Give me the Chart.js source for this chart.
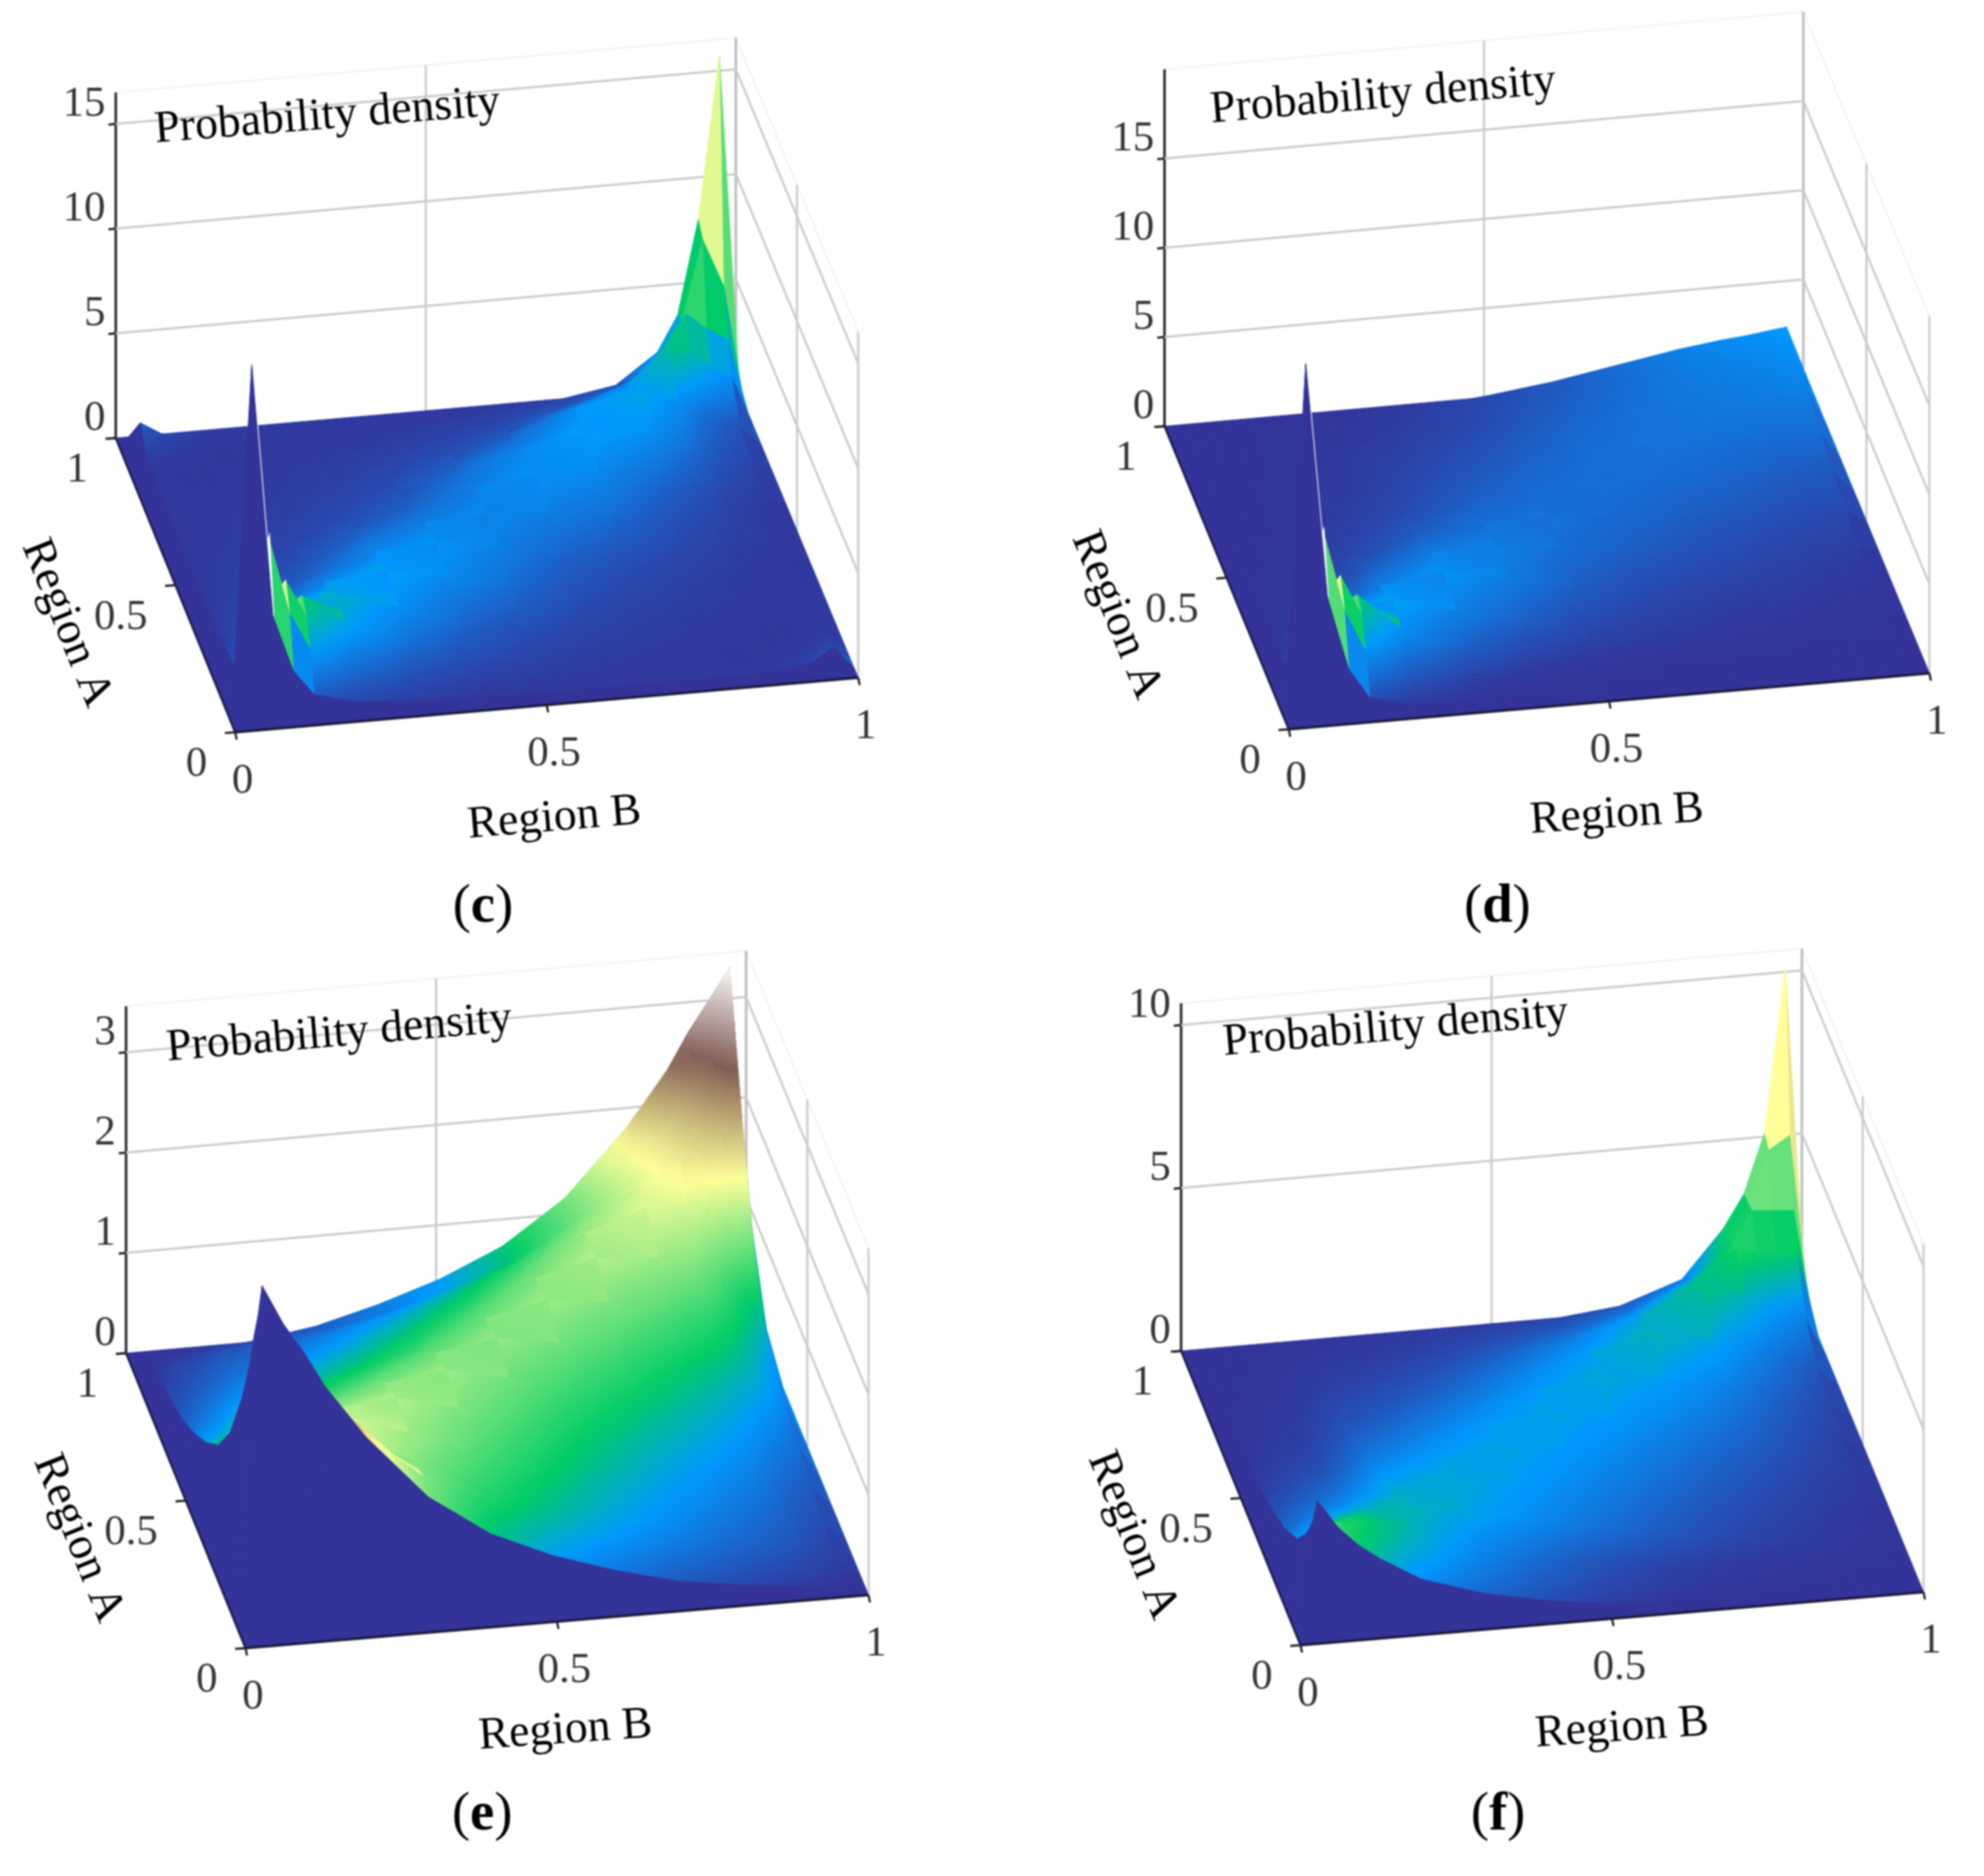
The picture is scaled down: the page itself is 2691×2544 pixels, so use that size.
<!DOCTYPE html>
<html>
<head>
<meta charset="utf-8">
<title>Probability density surfaces</title>
<script src="https://cdn.jsdelivr.net/npm/chart.js@4"></script>
<style>
  html, body { margin: 0; padding: 0; background: #fff; }
  canvas { position: absolute; filter: blur(1px); }
</style>
</head>
<body>
<script>
// grid of Region A / Region B values, finer towards the corners
const regionGrid = [0, 0.033, 0.067, 0.1, 0.133, 0.2, 0.3, 0.4, 0.5, 0.6, 0.7, 0.8, 0.867, 0.9, 0.933, 0.967, 1];
const regionTicks = [0, 0.5, 1];
const zTicksC = [0, 5, 10, 15];
const zTicksD = [0, 5, 10, 15];
const zTicksE = [0, 1, 2, 3];
const zTicksF = [0, 5, 10];

// density, inner grid nodes only (the outer edge of each surface sits at 0)
const densityC = [
  [17, 4.9, 2.2, 1.0, .45, .25, .15, .1, .1, .1, .12, .18, .25, .45, 1.1],
  [4.9, 8.1, 4.5, 2.7, 1.2, .5, .3, .2, .16, .14, .13, .15, .2, .3, .5],
  [2.2, 4.5, 5.6, 3.8, 2.2, .9, .45, .3, .2, .16, .13, .13, .15, .2, .3],
  [1.0, 2.7, 3.8, 4.3, 3.0, 1.4, .7, .4, .26, .2, .15, .13, .13, .15, .2],
  [.45, 1.2, 2.2, 3.0, 3.2, 2.4, 1.2, .65, .4, .27, .18, .15, .13, .13, .15],
  [.25, .5, .9, 1.4, 2.4, 2.7, 2.2, 1.4, .7, .42, .27, .2, .16, .14, .13],
  [.15, .3, .45, .7, 1.2, 2.2, 2.4, 1.95, 1.2, .7, .42, .28, .22, .18, .14],
  [.1, .2, .3, .4, .65, 1.4, 1.95, 2.1, 1.95, 1.4, .68, .42, .32, .24, .16],
  [.1, .16, .2, .26, .4, .7, 1.2, 1.95, 2.3, 2.2, 1.2, .7, .48, .34, .22],
  [.1, .14, .16, .2, .27, .42, .7, 1.4, 2.2, 2.6, 2.4, 1.4, .95, .65, .4],
  [.12, .13, .13, .15, .18, .27, .42, .68, 1.2, 2.4, 2.9, 2.4, 1.6, 1.1, .8],
  [.18, .15, .13, .13, .15, .2, .28, .42, .7, 1.4, 2.4, 3.9, 3.6, 2.9, 2.3],
  [.25, .2, .15, .13, .13, .16, .22, .32, .48, .95, 1.6, 3.6, 5.0, 4.2, 3.6],
  [.45, .3, .2, .15, .13, .14, .18, .24, .34, .65, 1.1, 2.9, 4.2, 8, 5.7],
  [1.1, .5, .3, .2, .15, .13, .14, .16, .22, .4, .9, 2.3, 4.0, 8.45, 16.2]
];
const densityD = [
  [19.8, 6.6, 2.5, .8, .2, .06, .03, .02, .01, .01, .01, 0, 0, 0, 0],
  [6.6, 9.7, 5.2, 2.8, .9, .2, .08, .05, .03, .02, .02, .01, .01, .01, .01],
  [2.5, 5.2, 6.6, 4.3, 1.9, .55, .2, .1, .06, .04, .03, .03, .02, .02, .02],
  [.8, 2.8, 4.3, 4.86, 2.8, 1.3, .4, .2, .12, .08, .05, .04, .04, .03, .03],
  [.2, .9, 1.9, 2.8, 3.3, 2.3, 1.3, .6, .33, .2, .13, .1, .08, .07, .06],
  [.06, .2, .55, 1.3, 2.3, 2.8, 2.2, 1.3, .75, .5, .35, .25, .2, .18, .16],
  [.03, .08, .2, .4, 1.3, 2.2, 2.2, 1.8, 1.3, .95, .65, .5, .42, .37, .33],
  [.02, .05, .1, .2, .6, 1.3, 1.8, 1.85, 1.65, 1.35, 1.05, .85, .75, .7, .66],
  [.01, .03, .06, .12, .33, .75, 1.3, 1.65, 1.8, 1.7, 1.5, 1.3, 1.2, 1.15, 1.1],
  [.01, .02, .04, .08, .2, .5, .95, 1.35, 1.7, 1.85, 1.85, 1.75, 1.7, 1.7, 1.7],
  [.01, .02, .03, .05, .13, .35, .65, 1.05, 1.5, 1.85, 2.0, 2.1, 2.15, 2.2, 2.3],
  [0, .01, .03, .04, .1, .25, .5, .85, 1.3, 1.75, 2.1, 2.2, 2.3, 2.45, 2.6],
  [0, .01, .02, .04, .08, .2, .42, .75, 1.2, 1.7, 2.15, 2.3, 2.4, 2.55, 2.7],
  [0, .01, .02, .03, .07, .18, .37, .7, 1.15, 1.7, 2.2, 2.45, 2.55, 2.7, 2.85],
  [0, .01, .02, .03, .06, .16, .33, .66, 1.1, 1.7, 2.3, 2.6, 2.7, 2.85, 3.0]
];
const densityE = [
  [3.5, 3.1, 2.8, 2.45, 1.9, 1.25, .83, .56, .36, .2, .11, .06, .04, .02, .01],
  [3.1, 2.6, 2.5, 2.25, 1.9, 1.3, .88, .65, .45, .3, .18, .12, .1, .07, .04],
  [2.8, 2.5, 2.3, 2.1, 1.75, 1.3, .98, .75, .55, .38, .24, .17, .13, .09, .06],
  [2.45, 2.25, 2.1, 1.9, 1.62, 1.3, 1.04, .82, .62, .45, .3, .22, .18, .13, .08],
  [1.9, 1.9, 1.75, 1.62, 1.6, 1.4, 1.15, .93, .72, .55, .38, .29, .24, .18, .12],
  [1.25, 1.3, 1.3, 1.3, 1.4, 1.45, 1.3, 1.08, .87, .68, .52, .4, .33, .25, .2],
  [.83, .88, .98, 1.04, 1.15, 1.3, 1.38, 1.25, 1.03, .85, .67, .54, .46, .37, .3],
  [.56, .65, .75, .82, .93, 1.08, 1.25, 1.35, 1.25, 1.05, .85, .72, .63, .55, .4],
  [.36, .45, .55, .62, .72, .87, 1.03, 1.25, 1.38, 1.3, 1.1, .95, .85, .7, .5],
  [.2, .3, .38, .45, .55, .68, .85, 1.05, 1.3, 1.45, 1.4, 1.28, 1.1, .9, .74],
  [.11, .18, .24, .3, .38, .52, .67, .85, 1.1, 1.4, 1.6, 1.6, 1.55, 1.5, 1.43],
  [.06, .12, .17, .22, .29, .4, .54, .72, .95, 1.28, 1.6, 1.85, 1.92, 2.05, 2.18],
  [.04, .1, .13, .18, .24, .33, .46, .63, .85, 1.22, 1.62, 1.92, 2.1, 2.3, 2.6],
  [.02, .07, .09, .13, .18, .25, .37, .55, .8, 1.22, 1.7, 2.05, 2.3, 2.6, 3.0],
  [.01, .02, .04, .06, .11, .2, .36, .56, .83, 1.25, 1.9, 2.45, 2.8, 3.1, 3.42]
];
const densityF = [
  [4.1, 3.2, 2.6, 2.15, 1.4, .8, .42, .15, .06, .03, .02, .01, .01, .01, 0],
  [3.2, 3.1, 2.75, 2.4, 1.75, 1.05, .6, .28, .12, .06, .04, .02, .02, .01, .01],
  [2.6, 2.75, 2.8, 2.55, 2.0, 1.25, .75, .4, .18, .1, .06, .04, .03, .02, .02],
  [2.15, 2.4, 2.55, 2.5, 2.1, 1.4, .9, .5, .25, .13, .08, .06, .04, .03, .03],
  [1.4, 1.75, 2.0, 2.1, 2.1, 1.8, 1.4, 1.0, .65, .38, .2, .13, .1, .08, .05],
  [.8, 1.05, 1.25, 1.4, 1.8, 1.85, 1.65, 1.3, .95, .6, .35, .22, .16, .12, .09],
  [.42, .6, .75, .9, 1.4, 1.65, 1.75, 1.6, 1.25, .9, .55, .35, .26, .2, .14],
  [.15, .28, .4, .5, 1.0, 1.3, 1.6, 1.75, 1.6, 1.25, .85, .55, .42, .3, .2],
  [.06, .12, .18, .25, .65, .95, 1.25, 1.6, 1.85, 1.65, 1.2, .8, .6, .45, .3],
  [.03, .06, .1, .13, .38, .6, .9, 1.25, 1.65, 2.1, 1.75, 1.2, .95, .75, .5],
  [.02, .04, .06, .08, .2, .35, .55, .85, 1.2, 1.75, 2.5, 2.1, 1.7, 1.4, 1.15],
  [.01, .02, .04, .06, .13, .22, .35, .55, .8, 1.2, 2.1, 2.9, 2.75, 2.65, 2.6],
  [.01, .02, .03, .04, .1, .16, .26, .42, .6, .95, 1.7, 2.75, 3.7, 3.65, 3.6],
  [.01, .01, .02, .03, .08, .12, .2, .3, .45, .75, 1.4, 2.65, 3.65, 5.2, 5.6],
  [0, .01, .02, .03, .05, .09, .14, .2, .3, .5, 1.15, 2.6, 3.6, 5.4, 10.4]
];

// terrain colormap
const mapStops = [0, 0.15, 0.25, 0.5, 0.75, 1];
const mapColors = [[51, 51, 153], [0, 153, 255], [0, 204, 102], [255, 255, 153], [128, 92, 84], [255, 255, 255]];

const panels = [
  { letter: 'c', box: [0, 0, 1345, 1270], values: densityC, zTicks: zTicksC, zMax: 17, zTop: 16.5, frontFacets: true, backFacets: true, spike: true,
    O: [319, 993], A1: [157, 594], B1: [1164, 919], C: [998, 520], zUnit: 28.4,
    title: [444, 158, -4.6], regionB: [752, 1110, -4.8], regionA: [90, 845, 68], tag: [655, 1231] },
  { letter: 'd', box: [1345, 0, 1346, 1270], values: densityD, zTicks: zTicksD, zMax: 20, zTop: 20, frontFacets: true, backFacets: false, spike: true,
    O: [1748, 989], A1: [1579.5, 578], B1: [2617, 913], C: [2446, 500], zUnit: 24.2,
    title: [1876, 130, -4.8], regionB: [2193, 1105, -4], regionA: [1514, 834, 68], tag: [2031, 1231] },
  { letter: 'e', box: [0, 1270, 1345, 1274], values: densityE, zTicks: zTicksE, zMax: 3.45, zTop: 3.46, frontFacets: false, backFacets: false, spike: false,
    O: [333, 2235], A1: [171, 1835], B1: [1178, 2163], C: [1012, 1760], zUnit: 136,
    title: [460, 1402, -4.9], regionB: [767, 2347, -4], regionA: [106, 2086, 68], tag: [654, 2462] },
  { letter: 'f', box: [1345, 1270, 1346, 1274], values: densityF, zTicks: zTicksF, zMax: 10.4, zTop: 10.67, frontFacets: false, backFacets: true, spike: false,
    O: [1764, 2231], A1: [1602, 1832], B1: [2609, 2159], C: [2444, 1758], zUnit: 44.2,
    title: [1893, 1394, -5], regionB: [2200, 2344, -4], regionA: [1536, 2082, 68], tag: [2032, 2462] }
];

function project(p, a, b, z) {
  const skew = k => a * b * (p.C[k] - p.A1[k] - p.B1[k] + p.O[k]);
  return {
    x: p.O[0] + a * (p.A1[0] - p.O[0]) + b * (p.B1[0] - p.O[0]) + skew(0),
    y: p.O[1] + a * (p.A1[1] - p.O[1]) + b * (p.B1[1] - p.O[1]) + skew(1) - z * p.zUnit
  };
}

function zAt(p, i, j) {
  const last = regionGrid.length - 1;
  if (i === 0 || j === 0 || i === last || j === last) return 0;
  return p.values[i - 1][j - 1];
}

function terrain(t) {
  t = Math.min(1, Math.max(0, t));
  let k = 0;
  while (k < mapStops.length - 2 && t > mapStops[k + 1]) k++;
  const f = (t - mapStops[k]) / (mapStops[k + 1] - mapStops[k]);
  const c = mapColors[k].map((v, n) => Math.round(v + f * (mapColors[k + 1][n] - v)));
  return `rgb(${c[0]},${c[1]},${c[2]})`;
}

// big cells get a linear gradient, the small ones around the two peaks and the
// first/last strips keep one flat colour from their lower corner, like the original
function cellPaint(chart, p, i, j) {
  const last = regionGrid.length - 2;
  const xs = chart.scales.x, ys = chart.scales.y;
  const peak = (p.frontFacets && i <= 3 && j <= 3) || (p.backFacets && i >= 12 && j >= 12);
  if (i === 0 || j === 0 || i === last || j === last || peak) {
    return terrain(zAt(p, i, j) / p.zMax);
  }
  const corners = [[i, j], [i, j + 1], [i + 1, j], [i + 1, j + 1]].map(([r, c]) => {
    const z = zAt(p, r, c);
    const q = project(p, regionGrid[r], regionGrid[c], z);
    return { x: xs.getPixelForValue(q.x), y: ys.getPixelForValue(q.y), z };
  });
  const [p00, p01, p10, p11] = corners;
  const zs = corners.map(c => c.z);
  const zMin = Math.min(...zs), zMax = Math.max(...zs);
  const zMid = (p00.z + p01.z + p10.z + p11.z) / 4;
  const flat = terrain(zMid / p.zMax);
  const cx = (p00.x + p01.x + p10.x + p11.x) / 4, cy = (p00.y + p01.y + p10.y + p11.y) / 4;
  const ua = { x: (p10.x + p11.x - p00.x - p01.x) / 2, y: (p10.y + p11.y - p00.y - p01.y) / 2 };
  const ub = { x: (p01.x + p11.x - p00.x - p10.x) / 2, y: (p01.y + p11.y - p00.y - p10.y) / 2 };
  const da = (p10.z + p11.z - p00.z - p01.z) / 2, db = (p01.z + p11.z - p00.z - p10.z) / 2;
  const det = ua.x * ub.y - ua.y * ub.x;
  if (Math.abs(det) < 1 || zMax - zMin < 0.005 * p.zMax) return flat;
  const gx = (da * ub.y - db * ua.y) / det, gy = (db * ua.x - da * ub.x) / det;
  const g2 = gx * gx + gy * gy;
  if (!(g2 > 1e-12)) return flat;
  const x0 = cx - gx / g2 * (zMid - zMin), y0 = cy - gy / g2 * (zMid - zMin);
  const x1 = cx + gx / g2 * (zMax - zMid), y1 = cy + gy / g2 * (zMax - zMid);
  if (![x0, y0, x1, y1].every(Number.isFinite)) return flat;
  const grad = chart.ctx.createLinearGradient(x0, y0, x1, y1);
  for (let s = 0; s <= 5; s++) {
    grad.addColorStop(s / 5, terrain((zMin + (zMax - zMin) * s / 5) / p.zMax));
  }
  return grad;
}

function lineSet(points, color, width) {
  return { data: points, borderColor: color, borderWidth: width, showLine: true, fill: false, pointRadius: 0, tension: 0 };
}

function buildDatasets(p) {
  const top = [], surface = [], walls = [];
  const P = (a, b, z) => project(p, a, b, z);
  const wall = '#cbcbcb';

  // front axes and tick marks
  top.push(lineSet([P(0, 0, 0), P(0, 1, 0)], '#1b1b3a', 3.5));
  top.push(lineSet([P(1, 0, 0), P(0, 0, 0)], '#1b1b4a', 3));
  regionTicks.forEach(v => {
    const q = P(v, 0, 0), r = P(0, v, 0);
    top.push(lineSet([q, { x: q.x - 14, y: q.y + 1 }], '#222', 3));
    top.push(lineSet([r, { x: r.x + 2, y: r.y + 10 }], '#222', 3));
  });

  // nearest cells first, the library paints the first dataset last
  const n = regionGrid.length - 1;
  for (let i = 0; i < n; i++) {
    for (let j = 0; j < n; j++) {
      const pts = [[i, j], [i, j + 1], [i + 1, j + 1], [i + 1, j], [i, j]]
        .map(([r, c]) => P(regionGrid[r], regionGrid[c], zAt(p, r, c)));
      const paint = ctx => cellPaint(ctx.chart, p, i, j);
      // the white sliver on the front spike is thinner than a pixel otherwise
      const edge = p.spike && i === 1 && j === 1 ? 3.5 : 1;
      surface.push({ data: pts, backgroundColor: paint, borderColor: paint, borderWidth: edge, showLine: true, fill: 'shape', pointRadius: 0, tension: 0 });
    }
  }

  // axis walls behind the surface
  p.zTicks.forEach(z => {
    if (z > 0) {
      walls.push(lineSet([P(1, 0, z), P(1, 1, z)], wall, 3));
      walls.push(lineSet([P(1, 1, z), P(0, 1, z)], wall, 3));
    }
    const q = P(1, 0, z);
    walls.push(lineSet([q, { x: q.x - 10, y: q.y + 1 }], '#222', 3));
  });
  walls.push(lineSet([P(1, 0, 0), P(1, 0, p.zTop)], '#2a2a2a', 3.5));
  walls.push(lineSet([P(1, 0.5, 0), P(1, 0.5, p.zTop)], wall, 3));
  walls.push(lineSet([P(1, 1, 0), P(1, 1, p.zTop)], '#bdbdbd', 3.5));
  walls.push(lineSet([P(0.5, 1, 0), P(0.5, 1, p.zTop)], wall, 3));
  walls.push(lineSet([P(0, 1, 0), P(0, 1, p.zTop)], wall, 3));
  walls.push(lineSet([P(1, 0, p.zTop), P(1, 1, p.zTop), P(0, 1, p.zTop)], '#f1f1f1', 2));

  return top.concat(surface, walls);
}

function drawLabel(ctx, text, x, y, rot, font, color, align) {
  ctx.save();
  ctx.translate(x, y);
  ctx.rotate(rot * Math.PI / 180);
  ctx.font = font;
  ctx.fillStyle = color;
  ctx.textAlign = align || 'center';
  ctx.textBaseline = 'middle';
  ctx.fillText(text, 0, 0);
  ctx.restore();
}

const serif = '"Liberation Serif"';
const textPlugin = {
  id: 'panelText',
  afterDraw(chart, args, opts) {
    const p = opts.panel, ctx = chart.ctx;
    const X = v => chart.scales.x.getPixelForValue(v), Y = v => chart.scales.y.getPixelForValue(v);
    const tickFont = `58px ${serif}`, tickColor = '#333';
    p.zTicks.forEach(z => {
      const q = project(p, 1, 0, z);
      drawLabel(ctx, String(z), X(q.x - 14), Y(q.y - 26), 0, tickFont, tickColor, 'right');
    });
    regionTicks.forEach(v => {
      const q = project(p, v, 0, 0), r = project(p, 0, v, 0);
      drawLabel(ctx, String(v), X(q.x - 38), Y(q.y + 44), 0, tickFont, tickColor, 'right');
      drawLabel(ctx, String(v), X(r.x + 10), Y(r.y + 67), 0, tickFont, tickColor);
    });
    drawLabel(ctx, 'Probability density', X(p.title[0]), Y(p.title[1]), p.title[2], `62px ${serif}`, '#000');
    drawLabel(ctx, 'Region B', X(p.regionB[0]), Y(p.regionB[1]), p.regionB[2], `62px ${serif}`, '#000');
    drawLabel(ctx, 'Region A', X(p.regionA[0]), Y(p.regionA[1]), p.regionA[2], `62px ${serif}`, '#000');

    ctx.font = `bold 74px ${serif}`;
    const w = ctx.measureText(p.letter).width;
    ctx.font = `74px ${serif}`;
    const pw = ctx.measureText('(').width;
    const tx = X(p.tag[0]), ty = Y(p.tag[1]);
    drawLabel(ctx, '(', tx - w / 2 - pw / 2, ty, 0, `74px ${serif}`, '#000');
    drawLabel(ctx, p.letter, tx, ty, 0, `bold 74px ${serif}`, '#000');
    drawLabel(ctx, ')', tx + w / 2 + pw / 2, ty, 0, `74px ${serif}`, '#000');
  }
};

panels.forEach(p => {
  const [left, topY, w, h] = p.box;
  const canvas = document.createElement('canvas');
  canvas.width = w;
  canvas.height = h;
  canvas.style.left = left + 'px';
  canvas.style.top = topY + 'px';
  canvas.style.width = w + 'px';
  canvas.style.height = h + 'px';
  document.body.appendChild(canvas);
  new Chart(canvas, {
    type: 'scatter',
    data: { datasets: buildDatasets(p) },
    options: {
      responsive: false,
      animation: false,
      events: [],
      layout: { padding: 0 },
      scales: {
        x: { type: 'linear', display: false, min: left, max: left + w },
        y: { type: 'linear', display: false, min: topY, max: topY + h, reverse: true }
      },
      plugins: {
        legend: { display: false },
        tooltip: { enabled: false },
        title: { display: false },
        panelText: { panel: p }
      }
    },
    plugins: [textPlugin]
  });
});
</script>
</body>
</html>
